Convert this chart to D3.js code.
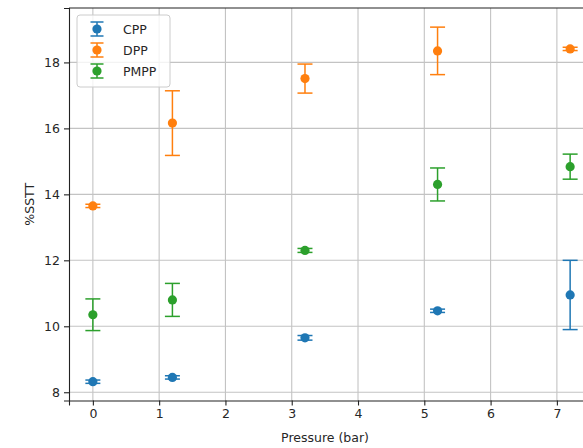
<!DOCTYPE html>
<html lang="en">
<head>
<meta charset="UTF-8">
<title>%SSTT vs pressure</title>
<style>
  body { margin: 0; background: #fff; }
  svg text { font-family: "DejaVu Sans", sans-serif; fill: #262626; }
</style>
</head>
<body>
<script src="https://d3js.org/d3.v7.min.js"></script>
<script>
    // Data
    const pressures = [0, 1.2, 3.2, 5.2, 7.2];
    const seriesNames = ["CPP", "DPP", "PMPP"];
    const cppMean = [8.32, 8.45, 9.65, 10.47, 10.95];
    const cppErr = [0.05, 0.05, 0.07, 0.05, 1.05];
    const dppMean = [13.65, 16.16, 17.51, 18.35, 18.41];
    const dppErr = [0.05, 0.98, 0.44, 0.72, 0.05];
    const pmppMean = [10.35, 10.8, 12.3, 14.3, 14.84];
    const pmppErr = [0.48, 0.5, 0.06, 0.5, 0.38];
    const xTicks = [0, 1, 2, 3, 4, 5, 6, 7];
    const yTicks = [8, 10, 12, 14, 16, 18];

    const colors = ["#1f77b4", "#ff7f0e", "#2ca02c"];
    const width = 583, height = 448;
    const plot = {left: 69, top: 8, right: 594, bottom: 400.5};
    const capHalf = 7.5, markerR = 4.6;

    const series = [
        {name: seriesNames[0], mean: cppMean, err: cppErr},
        {name: seriesNames[1], mean: dppMean, err: dppErr},
        {name: seriesNames[2], mean: pmppMean, err: pmppErr}
    ];

    const x = d3.scaleLinear().domain([-0.36, 7.56]).range([plot.left, plot.right]);
    const y = d3.scaleLinear().domain([7.75, 19.65]).range([plot.bottom, plot.top]);

    const svg = d3.select("body").append("svg")
        .attr("width", width)
        .attr("height", height);

    // grid
    const grid = svg.append("g").attr("stroke", "#b0b0b0").attr("stroke-width", 1.1).attr("opacity", 0.75);
    grid.selectAll(".gx").data(xTicks).enter().append("line")
        .attr("x1", d => x(d)).attr("x2", d => x(d))
        .attr("y1", plot.top).attr("y2", plot.bottom);
    grid.selectAll(".gy").data(yTicks).enter().append("line")
        .attr("x1", plot.left).attr("x2", plot.right)
        .attr("y1", d => y(d)).attr("y2", d => y(d));

    // axes
    const xAxis = svg.append("g")
        .attr("transform", `translate(0,${plot.bottom})`)
        .call(d3.axisBottom(x).tickValues(xTicks).tickSize(5).tickPadding(4).tickFormat(d3.format("d")));
    const yAxis = svg.append("g")
        .attr("transform", `translate(${plot.left},0)`)
        .call(d3.axisLeft(y).tickValues(yTicks).tickSize(5).tickPadding(4).tickFormat(d3.format("d")));
    [xAxis, yAxis].forEach(function(a) {
        a.select(".domain").attr("stroke", "#222").attr("stroke-width", 1.1);
        a.selectAll(".tick line").attr("stroke", "#222").attr("stroke-width", 1.1);
        a.selectAll(".tick text").style("font-size", "12.5px").style("font-family", "DejaVu Sans, sans-serif").attr("fill", "#262626");
    });
    // top spine
    svg.append("line")
        .attr("x1", plot.left).attr("x2", plot.right)
        .attr("y1", plot.top).attr("y2", plot.top)
        .attr("stroke", "#222").attr("stroke-width", 1.1);

    // error bars + markers
    series.forEach(function(s, i) {
        const g = svg.append("g").attr("stroke", colors[i]).attr("fill", colors[i]);
        const pts = pressures.map((p, j) => ({p: p, m: s.mean[j], e: s.err[j]}));
        g.selectAll(".bar").data(pts).enter().append("line")
            .attr("x1", d => x(d.p)).attr("x2", d => x(d.p))
            .attr("y1", d => y(d.m - d.e)).attr("y2", d => y(d.m + d.e))
            .attr("stroke-width", 1.5);
        g.selectAll(".capLo").data(pts).enter().append("line")
            .attr("x1", d => x(d.p) - capHalf).attr("x2", d => x(d.p) + capHalf)
            .attr("y1", d => y(d.m - d.e)).attr("y2", d => y(d.m - d.e))
            .attr("stroke-width", 1.5);
        g.selectAll(".capHi").data(pts).enter().append("line")
            .attr("x1", d => x(d.p) - capHalf).attr("x2", d => x(d.p) + capHalf)
            .attr("y1", d => y(d.m + d.e)).attr("y2", d => y(d.m + d.e))
            .attr("stroke-width", 1.5);
        g.selectAll("circle").data(pts).enter().append("circle")
            .attr("cx", d => x(d.p)).attr("cy", d => y(d.m))
            .attr("r", markerR).attr("stroke", "none");
    });

    // axis labels
    svg.append("text")
        .attr("x", (plot.left + 583 + 0) / 2 - 1)
        .attr("y", 442)
        .attr("text-anchor", "middle")
        .style("font-size", "12.5px")
        .text("Pressure (bar)");
    svg.append("text")
        .attr("transform", `translate(34,${(plot.top + plot.bottom) / 2}) rotate(-90)`)
        .attr("text-anchor", "middle")
        .style("font-size", "12.5px")
        .text("%SSTT");

    // legend
    const legend = svg.append("g").attr("transform", "translate(77,15)");
    legend.append("rect")
        .attr("width", 93).attr("height", 72)
        .attr("rx", 3).attr("ry", 3)
        .attr("fill", "#fff").attr("fill-opacity", 0.8)
        .attr("stroke", "#ccc").attr("stroke-width", 1);
    series.forEach(function(s, i) {
        const cy = 14 + i * 21, cx = 20;
        const item = legend.append("g").attr("stroke", colors[i]).attr("fill", colors[i]);
        item.append("line").attr("x1", cx).attr("x2", cx).attr("y1", cy - 7).attr("y2", cy + 7).attr("stroke-width", 1.5);
        item.append("line").attr("x1", cx - 6.5).attr("x2", cx + 6.5).attr("y1", cy - 7).attr("y2", cy - 7).attr("stroke-width", 1.5);
        item.append("line").attr("x1", cx - 6.5).attr("x2", cx + 6.5).attr("y1", cy + 7).attr("y2", cy + 7).attr("stroke-width", 1.5);
        item.append("circle").attr("cx", cx).attr("cy", cy).attr("r", markerR).attr("stroke", "none");
        legend.append("text")
            .attr("x", 46).attr("y", cy + 4.5)
            .style("font-size", "12.5px")
            .text(s.name);
    });
</script>
</body>
</html>
